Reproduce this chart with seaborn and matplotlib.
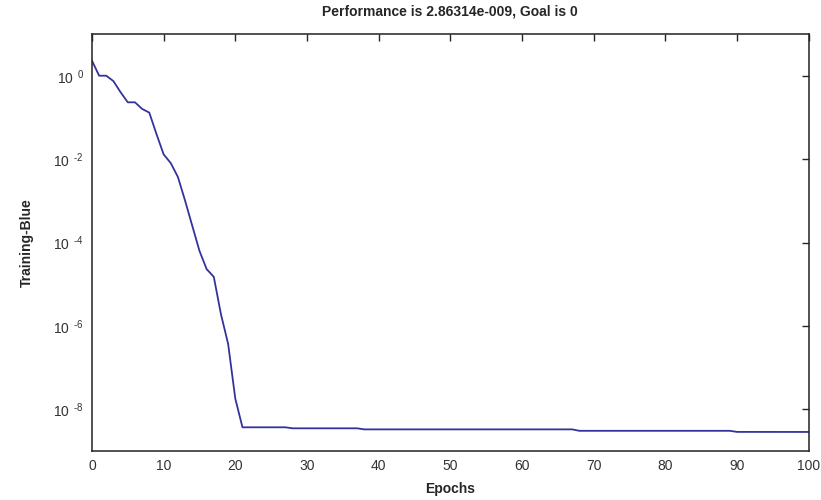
import numpy as np
import pandas as pd
import matplotlib
matplotlib.use('Agg')
import matplotlib.pyplot as plt
import seaborn as sns

# training curve (breakpoints of the line)
epochs = [0, 1, 2, 3, 4, 5, 6, 7, 8, 9, 10, 11, 12, 13, 14, 15, 16, 17, 18, 19, 20, 21,
          27, 28, 37, 38, 67, 68, 89, 90, 100]
perf = [2.3, 1.0, 1.0, 0.74, 0.4, 0.23, 0.23, 0.16, 0.13, 0.04, 0.013, 0.008, 0.0037,
        1e-3, 2.5e-4, 6.3e-5, 2.3e-5, 1.5e-5, 1.9e-6, 3.7e-7, 1.8e-8, 3.7e-9,
        3.7e-9, 3.5e-9, 3.5e-9, 3.3e-9, 3.3e-9, 3.05e-9, 3.05e-9, 2.87e-9, 2.86314e-9]

xticks = [0, 10, 20, 30, 40, 50, 60, 70, 80, 90, 100]
yexp = [0, -2, -4, -6, -8]

df = pd.DataFrame({'Epochs': epochs, 'perf': perf})

sns.set_style('white')
plt.rcParams['font.family'] = ['Liberation Sans', 'DejaVu Sans']
plt.rcParams['mathtext.fontset'] = 'custom'
plt.rcParams['mathtext.rm'] = 'Liberation Sans'
plt.rcParams['mathtext.it'] = 'Liberation Sans'

fig = plt.figure(figsize=(8.21, 5), dpi=100)
ax = fig.add_axes([0.112, 0.098, 0.873, 0.834])

sns.lineplot(data=df, x='Epochs', y='perf', ax=ax, color='#33339e', linewidth=1.3)

ax.set_yscale('log')
ax.set_xlim(0, 100)
ax.set_ylim(1e-9, 1e1)
ax.set_xticks(xticks)
ax.set_xticklabels([str(t) for t in xticks], fontsize=10, color='#333333')
ax.set_yticks([10.0 ** e for e in yexp])
ax.set_yticklabels([r'$10^{\;\;\mathrm{%s}}$' % str(e).replace('-', '\\text{-}') for e in yexp],
                   fontsize=10, color='#333333')
ax.yaxis.set_minor_locator(matplotlib.ticker.NullLocator())

ax.tick_params(direction='in', length=5, width=1, top=True, right=True, pad=6)
for s in ax.spines.values():
    s.set_visible(True)
    s.set_color('#222222')
    s.set_linewidth(1.1)

ax.set_title('Performance is 2.86314e-009, Goal is 0', fontsize=10, fontweight='bold', pad=13)
ax.set_xlabel('Epochs', fontsize=10, fontweight='bold', labelpad=6)
ax.set_ylabel('Training-Blue', fontsize=10, fontweight='bold', labelpad=14)

fig.savefig('out.png', dpi=100)
